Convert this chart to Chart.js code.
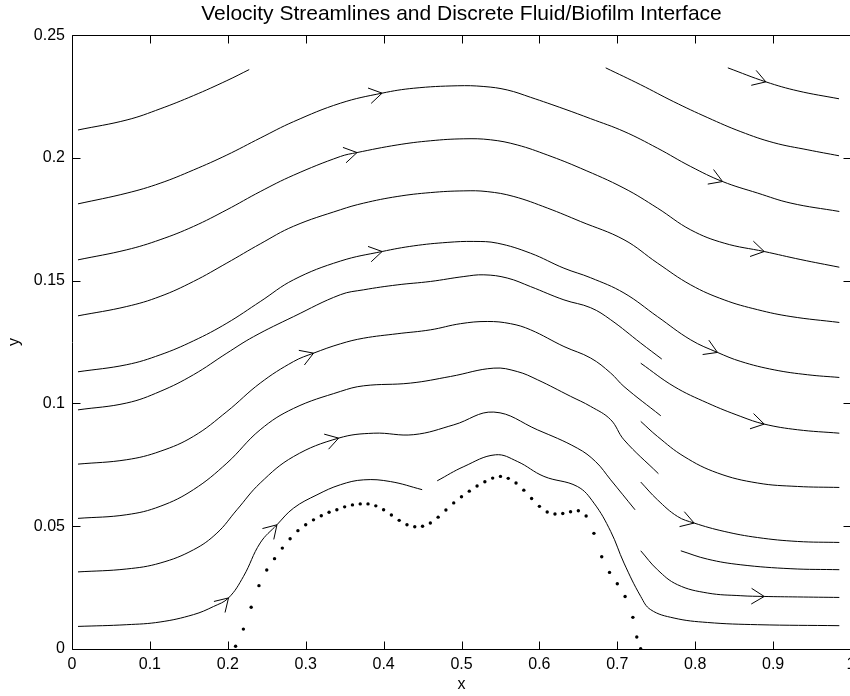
<!DOCTYPE html>
<html>
<head>
<meta charset="utf-8">
<script src="https://cdn.jsdelivr.net/npm/chart.js@4/dist/chart.umd.min.js"></script>
<style>
  html, body { margin: 0; padding: 0; background: #fff; overflow: hidden; }
</style>
</head>
<body>
<canvas id="myChart" width="860" height="696"></canvas>
<script>
const xTicks = [0, 0.1, 0.2, 0.3, 0.4, 0.5, 0.6, 0.7, 0.8, 0.9, 1]
const xTickLabels = ['0', '0.1', '0.2', '0.3', '0.4', '0.5', '0.6', '0.7', '0.8', '0.9', '1']
const yTicks = [0, 0.05, 0.1, 0.15, 0.2, 0.25]
const yTickLabels = ['0', '0.05', '0.1', '0.15', '0.2', '0.25']

// streamlines, [x, y]
const line1 = [[0.0077,0.2114],[0.0707,0.2155],[0.1131,0.2200],[0.1559,0.2254],[0.1988,0.2315],[0.2275,0.2360]]
const line2 = [[0.0077,0.1813],[0.0707,0.1857],[0.1131,0.1897],[0.1559,0.1951],[0.1988,0.2012],[0.2416,0.2081],[0.2845,0.2148],[0.3445,0.2223],[0.3981,0.2264],[0.4387,0.2284],[0.4945,0.2294],[0.5287,0.2291],[0.5587,0.2277],[0.5887,0.2247],[0.6315,0.2200],[0.6658,0.2160],[0.7086,0.2108],[0.7515,0.2040],[0.7943,0.1965],[0.8351,0.1904],[0.8801,0.1857],[0.9229,0.1816],[0.9850,0.1782]]
const line3 = [[0.0077,0.1585],[0.0703,0.1626],[0.1131,0.1667],[0.1559,0.1721],[0.1988,0.1789],[0.2416,0.1863],[0.2845,0.1930],[0.3445,0.2006],[0.3659,0.2022],[0.4174,0.2053],[0.4602,0.2070],[0.5030,0.2078],[0.5373,0.2074],[0.5716,0.2053],[0.6102,0.2012],[0.6530,0.1958],[0.7086,0.1877],[0.7515,0.1796],[0.7943,0.1707],[0.8372,0.1653],[0.8886,0.1619],[0.9357,0.1586],[0.9850,0.1555]]
const line4 = [[0.0077,0.1357],[0.0703,0.1395],[0.1131,0.1436],[0.1559,0.1497],[0.1988,0.1572],[0.2416,0.1650],[0.2845,0.1722],[0.3445,0.1789],[0.3744,0.1816],[0.4174,0.1843],[0.4602,0.1859],[0.5030,0.1866],[0.5330,0.1863],[0.5672,0.1843],[0.6102,0.1796],[0.6530,0.1741],[0.7086,0.1667],[0.7515,0.1572],[0.7943,0.1483],[0.8372,0.1422],[0.8801,0.1382],[0.9229,0.1354],[0.9850,0.1330]]
const line5 = [[0.0077,0.1129],[0.0703,0.1158],[0.1131,0.1198],[0.1559,0.1255],[0.1988,0.1327],[0.2416,0.1415],[0.2845,0.1504],[0.3445,0.1580],[0.3981,0.1619],[0.4387,0.1642],[0.4816,0.1656],[0.5158,0.1660],[0.5459,0.1653],[0.5887,0.1612],[0.6315,0.1551],[0.6658,0.1512],[0.7086,0.1450],[0.7515,0.1354],[0.7943,0.1259],[0.8286,0.1208],[0.8586,0.1171],[0.9014,0.1137],[0.9443,0.1117],[0.9850,0.1106]]
const line6 = [[0.0077,0.0974],[0.0703,0.1002],[0.1131,0.1049],[0.1559,0.1117],[0.1988,0.1205],[0.2330,0.1272],[0.2845,0.1354],[0.3445,0.1443],[0.3744,0.1463],[0.4174,0.1483],[0.4602,0.1497],[0.5030,0.1517],[0.5287,0.1524],[0.5587,0.1511],[0.5887,0.1476],[0.6315,0.1422],[0.6658,0.1390],[0.6915,0.1341],[0.7301,0.1246],[0.7571,0.1181]]
const line7 = [[0.0077,0.0753],[0.0703,0.0771],[0.1131,0.0805],[0.1559,0.0866],[0.1988,0.0967],[0.2416,0.1083],[0.2845,0.1171],[0.3101,0.1205],[0.3445,0.1243],[0.3744,0.1266],[0.4174,0.1284],[0.4602,0.1300],[0.4987,0.1325],[0.5330,0.1334],[0.5630,0.1325],[0.5887,0.1300],[0.6315,0.1232],[0.6658,0.1185],[0.6915,0.1124],[0.7086,0.1069],[0.7558,0.0950]]
const line8 = [[0.0077,0.0532],[0.0703,0.0547],[0.1131,0.0581],[0.1559,0.0649],[0.1988,0.0757],[0.2416,0.0893],[0.2845,0.0980],[0.3445,0.1049],[0.3744,0.1072],[0.4344,0.1083],[0.4859,0.1110],[0.5415,0.1144],[0.5716,0.1130],[0.5973,0.1097],[0.6401,0.1029],[0.6658,0.0988],[0.6915,0.0934],[0.7086,0.0852],[0.7528,0.0714]]
const line9 = [[0.0077,0.0314],[0.0703,0.0326],[0.1131,0.0350],[0.1559,0.0404],[0.1860,0.0472],[0.2117,0.0567],[0.2416,0.0676],[0.2845,0.0784],[0.3423,0.0859],[0.3873,0.0879],[0.4387,0.0873],[0.4901,0.0913],[0.5415,0.0965],[0.5973,0.0893],[0.6487,0.0818],[0.6722,0.0763],[0.6915,0.0689],[0.7228,0.0567]]
const line10 = [[0.0077,0.0092],[0.0703,0.0099],[0.1131,0.0110],[0.1559,0.0140],[0.1816,0.0173],[0.2009,0.0208],[0.2202,0.0296],[0.2416,0.0432],[0.2631,0.0506],[0.2845,0.0574],[0.3145,0.0628],[0.3445,0.0669],[0.3744,0.0689],[0.4087,0.0682],[0.4495,0.0649]]
const line11 = [[0.4688,0.0685],[0.5030,0.0743],[0.5437,0.0791],[0.5716,0.0764],[0.6058,0.0703],[0.6487,0.0662],[0.6701,0.0594],[0.6915,0.0479],[0.7086,0.0350],[0.7301,0.0214],[0.7429,0.0160],[0.7729,0.0126],[0.8158,0.0108],[0.8801,0.0099],[0.9850,0.0095]]
const line12 = [[0.6851,0.2367],[0.7301,0.2298],[0.7725,0.2229],[0.8162,0.2164],[0.8586,0.2107],[0.9010,0.2062],[0.9447,0.2033],[0.9846,0.2009]]
const line13 = [[0.8419,0.2367],[0.8907,0.2310],[0.9319,0.2273],[0.9846,0.2241]]
const line14 = [[0.7301,0.1164],[0.7729,0.1069],[0.8158,0.1002],[0.8586,0.0947],[0.8886,0.0916],[0.9314,0.0893],[0.9850,0.0879]]
const line15 = [[0.7301,0.0927],[0.7515,0.0866],[0.7857,0.0784],[0.8286,0.0717],[0.8801,0.0676],[0.9314,0.0662],[0.9850,0.0658]]
const line16 = [[0.7301,0.0680],[0.7515,0.0608],[0.7772,0.0540],[0.7986,0.0513],[0.8372,0.0479],[0.8801,0.0454],[0.9314,0.0438],[0.9850,0.0434]]
const line17 = [[0.7815,0.0400],[0.8158,0.0366],[0.8586,0.0343],[0.9229,0.0327],[0.9850,0.0323]]
const line18 = [[0.7301,0.0400],[0.7515,0.0323],[0.7772,0.0262],[0.8158,0.0228],[0.8586,0.0217],[0.8886,0.0214],[0.9314,0.0212],[0.9850,0.0210]]

const streamlines = [line1, line2, line3, line4, line5, line6, line7, line8, line9,
  line10, line11, line12, line13, line14, line15, line16, line17, line18]

// arrow heads: [streamline, index of the point at the tip]
const arrowMarks = [[line2, 8], [line2, 19], [line3, 8], [line3, 20], [line5, 8], [line5, 19],
  [line7, 7], [line9, 8], [line10, 5], [line10, 8], [line13, 1], [line14, 4], [line16, 3], [line18, 5]]

// discrete fluid/biofilm interface
const interfacePts = [[0.210,0.0011],[0.220,0.0081],[0.230,0.0170],[0.240,0.0258],[0.250,0.0322],[0.260,0.0368],
  [0.270,0.0411],[0.280,0.0449],[0.290,0.0482],[0.300,0.0506],[0.310,0.0526],[0.320,0.0543],[0.330,0.0557],
  [0.340,0.0567],[0.350,0.0579],[0.360,0.0587],[0.370,0.0591],[0.380,0.0591],[0.390,0.0583],[0.400,0.0567],
  [0.410,0.0546],[0.420,0.0524],[0.430,0.0506],[0.440,0.0498],[0.450,0.0500],[0.460,0.0513],[0.470,0.0537],
  [0.480,0.0566],[0.490,0.0595],[0.500,0.0620],[0.510,0.0643],[0.520,0.0664],[0.530,0.0681],[0.540,0.0696],
  [0.550,0.0703],[0.560,0.0695],[0.570,0.0676],[0.580,0.0647],[0.590,0.0613],[0.600,0.0581],[0.610,0.0558],
  [0.620,0.0550],[0.630,0.0552],[0.640,0.0559],[0.650,0.0563],[0.660,0.0542],[0.670,0.0471],[0.680,0.0376],
  [0.690,0.0312],[0.700,0.0266],[0.710,0.0214],[0.720,0.0129],[0.725,0.0049],[0.730,0.0001]]

const canvas = document.getElementById('myChart')
const font = 'Liberation Sans, Arial, Helvetica, sans-serif'

// MATLAB style box with inward ticks, plus the arrow heads
const frame = {
    id: 'frame',
    afterDatasetsDraw(chart) {
        const { ctx, chartArea: a, scales: { x, y } } = chart
        ctx.save()
        ctx.strokeStyle = '#000'
        ctx.lineWidth = 1
        ctx.beginPath()
        arrowMarks.forEach(([line, i]) => {
            const p = line[i], q = line[i - 1], r = line[i + 1]
            const px = x.getPixelForValue(p[0]), py = y.getPixelForValue(p[1])
            const dx = x.getPixelForValue(r[0]) - x.getPixelForValue(q[0])
            const dy = y.getPixelForValue(r[1]) - y.getPixelForValue(q[1])
            const ang = Math.atan2(dy, dx)
            for (const s of [-1, 1]) {
                const b = ang + Math.PI + s * 0.55
                ctx.moveTo(px + 15 * Math.cos(b), py + 15 * Math.sin(b))
                ctx.lineTo(px, py)
            }
        })
        ctx.stroke()

        const l = Math.round(a.left) + 0.5, r = Math.round(a.right) + 0.5
        const t = Math.round(a.top) + 0.5, b = Math.round(a.bottom) + 0.5
        ctx.beginPath()
        ctx.rect(l, t, r - l, b - t)
        xTicks.forEach(v => {
            const px = Math.round(x.getPixelForValue(v)) + 0.5
            ctx.moveTo(px, b); ctx.lineTo(px, b - 8)
            ctx.moveTo(px, t); ctx.lineTo(px, t + 8)
        })
        yTicks.forEach(v => {
            const py = Math.round(y.getPixelForValue(v)) + 0.5
            ctx.moveTo(l, py); ctx.lineTo(l + 8, py)
            ctx.moveTo(r, py); ctx.lineTo(r - 8, py)
        })
        ctx.stroke()
        ctx.restore()
    }
}

const datasets = streamlines.map(line => ({
    data: line.map(([x, y]) => ({ x, y })),
    showLine: true,
    borderColor: '#000',
    borderWidth: 1,
    pointRadius: 0,
    tension: 0.4
}))
datasets.push({
    data: interfacePts.map(([x, y]) => ({ x, y })),
    showLine: false,
    pointRadius: 1.7,
    backgroundColor: '#000',
    borderWidth: 0
})

const config = {
    type: 'scatter',
    data: { datasets },
    options: {
        responsive: false,
        animation: false,
        devicePixelRatio: 1,
        layout: { padding: { left: 0, right: 9, top: 0, bottom: 0 } },
        plugins: {
            legend: { display: false },
            tooltip: { enabled: false },
            title: {
                display: true,
                fullSize: false,
                text: 'Velocity Streamlines and Discrete Fluid/Biofilm Interface',
                color: '#000',
                font: { family: font, size: 21, weight: 'normal' },
                padding: { top: 2, bottom: 8 }
            }
        },
        scales: {
            x: {
                type: 'linear',
                min: 0,
                max: 1,
                grid: { display: false, drawTicks: false },
                border: { display: false },
                afterBuildTicks: s => { s.ticks = xTicks.map(v => ({ value: v })) },
                ticks: {
                    color: '#000',
                    padding: 6,
                    maxRotation: 0,
                    font: { family: font, size: 16 },
                    callback: (v, i) => xTickLabels[i]
                },
                title: { display: true, text: 'x', color: '#000', font: { family: font, size: 16 }, padding: { top: 0, bottom: 2 } },
                afterFit: s => { s.height = 47; s.paddingLeft = 0; s.paddingRight = 0 }
            },
            y: {
                type: 'linear',
                min: 0,
                max: 0.25,
                grid: { display: false, drawTicks: false },
                border: { display: false },
                afterBuildTicks: s => { s.ticks = yTicks.map(v => ({ value: v })) },
                ticks: {
                    color: '#000',
                    padding: 7,
                    font: { family: font, size: 16 },
                    callback: (v, i) => yTickLabels[i]
                },
                title: { display: true, text: 'y', color: '#000', font: { family: font, size: 16 }, padding: { top: 5, bottom: 0 } },
                afterFit: s => { s.width = 72; s.paddingTop = 0; s.paddingBottom = 0 }
            }
        }
    },
    plugins: [frame]
}

const myChart = new Chart(canvas, config)
</script>
</body>
</html>
